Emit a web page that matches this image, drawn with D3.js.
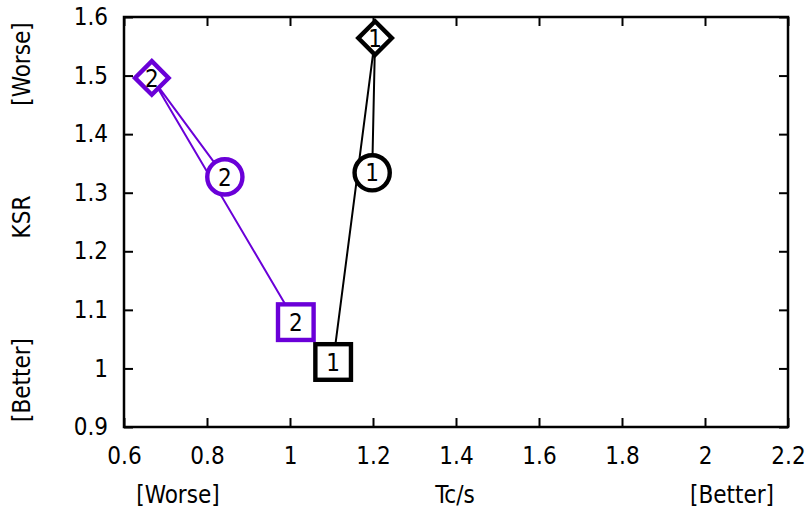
<!DOCTYPE html>
<html>
<head>
<meta charset="utf-8">
<script src="https://cdn.jsdelivr.net/npm/d3@7"></script>
<style>
  body { margin: 0; background: #fff; }
  text { font-family: "DejaVu Sans Condensed", "DejaVu Sans", sans-serif; font-stretch: condensed; }
</style>
</head>
<body>
<svg width="810" height="509"></svg>
<script>
const xTicks = [0.6, 0.8, 1, 1.2, 1.4, 1.6, 1.8, 2, 2.2];
const yTicks = [0.9, 1, 1.1, 1.2, 1.3, 1.4, 1.5, 1.6];

// path order: square -> diamond -> circle
const seriesNames = ["1", "2"];
const seriesColors = ["#000000", "#6a00d8"];
const markerShapes = ["square", "diamond", "circle"];
const tcValues = [
  [1.104, 1.205, 1.198],
  [1.014, 0.667, 0.843]
];
const ksrValues = [
  [1.011, 1.564, 1.334],
  [1.079, 1.496, 1.327]
];

const svg = d3.select("svg");
const margin = { top: 17, right: 22, bottom: 82, left: 124 };
const width = +svg.attr("width");
const height = +svg.attr("height");
const innerWidth = width - margin.left - margin.right;
const innerHeight = height - margin.top - margin.bottom;

const x = d3.scaleLinear().domain([0.6, 2.2]).range([0, innerWidth]);
const y = d3.scaleLinear().domain([0.9, 1.6]).range([innerHeight, 0]);

const g = svg.append("g")
  .attr("transform", `translate(${margin.left},${margin.top})`);

const fmt = d => String(+d.toFixed(1));
const tickLen = 9;
const fontSize = "24px";

// axes, ticks pointing inward, mirrored on top and right
g.append("g")
  .attr("transform", `translate(0,${innerHeight})`)
  .call(d3.axisBottom(x).tickValues(xTicks).tickFormat(fmt).tickSizeInner(-tickLen).tickSizeOuter(0).tickPadding(20));
g.append("g")
  .call(d3.axisLeft(y).tickValues(yTicks).tickFormat(fmt).tickSizeInner(-tickLen).tickSizeOuter(0).tickPadding(16));
g.append("g")
  .call(d3.axisTop(x).tickValues(xTicks).tickSizeInner(-tickLen).tickSizeOuter(0))
  .selectAll("text").remove();
g.append("g")
  .attr("transform", `translate(${innerWidth},0)`)
  .call(d3.axisRight(y).tickValues(yTicks).tickSizeInner(-tickLen).tickSizeOuter(0))
  .selectAll("text").remove();

g.selectAll(".domain").remove();
g.selectAll(".tick line").attr("stroke", "#000").attr("stroke-width", 2);
g.selectAll(".tick text").attr("fill", "#000").style("font-size", fontSize);

g.append("rect")
  .attr("width", innerWidth)
  .attr("height", innerHeight)
  .attr("fill", "none")
  .attr("stroke", "#000")
  .attr("stroke-width", 2.5);

// lines
const line = d3.line().x(d => x(d[0])).y(d => y(d[1]));
seriesNames.forEach((name, s) => {
  const pts = tcValues[s].map((v, i) => [v, ksrValues[s][i]]);
  g.append("path")
    .attr("d", line(pts))
    .attr("fill", "none")
    .attr("stroke", seriesColors[s])
    .attr("stroke-width", 2);
});

// markers
seriesNames.forEach((name, s) => {
  tcValues[s].forEach((v, i) => {
    const cx = x(v), cy = y(ksrValues[s][i]);
    const shape = markerShapes[i];
    const m = g.append("g").attr("transform", `translate(${cx},${cy})`);
    if (shape === "square") {
      m.append("rect").attr("x", -17.8).attr("y", -17.8).attr("width", 35.6).attr("height", 35.6);
    } else if (shape === "diamond") {
      m.append("path").attr("d", "M0,-16.8L16.8,0L0,16.8L-16.8,0Z");
    } else {
      m.append("circle").attr("r", 17.6);
    }
    m.select(":first-child")
      .attr("fill", "#fff")
      .attr("stroke", seriesColors[s])
      .attr("stroke-width", 4.4);
    m.append("text")
      .attr("text-anchor", "middle")
      .attr("dy", "0.36em")
      .style("font-size", fontSize)
      .attr("fill", "#000")
      .text(name);
  });
});

// axis labels
const labelY = 503;
[["[Worse]", 178], ["Tc/s", 455], ["[Better]", 732]].forEach(([t, px]) => {
  svg.append("text")
    .attr("x", px).attr("y", labelY)
    .attr("text-anchor", "middle")
    .style("font-size", fontSize)
    .text(t);
});
[["[Worse]", 64], ["KSR", 217], ["[Better]", 380]].forEach(([t, py]) => {
  svg.append("text")
    .attr("transform", `translate(30,${py}) rotate(-90)`)
    .attr("text-anchor", "middle")
    .style("font-size", fontSize)
    .text(t);
});
</script>
</body>
</html>
